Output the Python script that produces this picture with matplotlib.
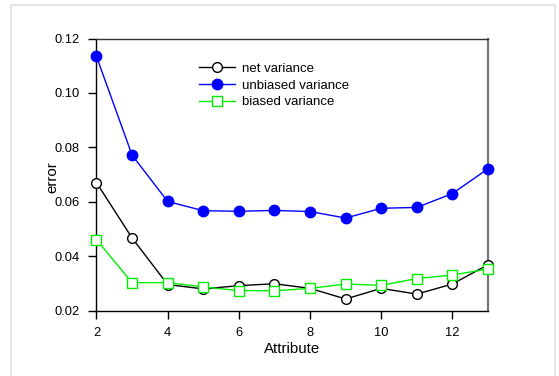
import matplotlib
matplotlib.use("Agg")
import matplotlib.pyplot as plt
from matplotlib.patches import Rectangle

plt.rcParams['font.family'] = ['Liberation Sans', 'DejaVu Sans']

attributes = [2, 3, 4, 5, 6, 7, 8, 9, 10, 11, 12, 13]
net_variance = [0.0671, 0.0468, 0.0297, 0.0281, 0.0293, 0.0300, 0.0283,
                0.0244, 0.0283, 0.0262, 0.0299, 0.0370]
unbiased_variance = [0.1134, 0.0772, 0.0602, 0.0568, 0.0566, 0.0569, 0.0565,
                     0.0541, 0.0577, 0.0580, 0.0631, 0.0722]
biased_variance = [0.0462, 0.0304, 0.0304, 0.0288, 0.0275, 0.0274, 0.0283,
                   0.0299, 0.0294, 0.0319, 0.0332, 0.0354]

x_ticks = [2, 4, 6, 8, 10, 12]
y_ticks = [0.02, 0.04, 0.06, 0.08, 0.10, 0.12]
y_tick_labels = ["0.02", "0.04", "0.06", "0.08", "0.10", "0.12"]

fig = plt.figure(figsize=(5.59, 3.76), dpi=100)
fig.patches.append(Rectangle((11 / 559, -0.05), 544 / 559, 1 - 5 / 376 + 0.05,
                             transform=fig.transFigure, fill=False,
                             edgecolor='#e4e4e4', lw=1.5, zorder=0))

ax = fig.add_axes([0.1726, 0.1729, 0.7004, 0.7247])

ax.plot(attributes, net_variance, color='black', lw=1.0, marker='o',
        markersize=7, markerfacecolor='white', markeredgecolor='black',
        markeredgewidth=1.0, label='net variance', zorder=3, clip_on=False)
ax.plot(attributes, unbiased_variance, color='#0000ff', lw=1.0, marker='o',
        markersize=7.5, markerfacecolor='#0000ff', markeredgecolor='#0000ff',
        label='unbiased variance', zorder=4, clip_on=False)
ax.plot(attributes, biased_variance, color='#00ee00', lw=1.0, marker='s',
        markersize=7.5, markerfacecolor='white', markeredgecolor='#00ee00',
        markeredgewidth=1.0, label='biased variance', zorder=5, clip_on=False)

ax.set_xlim(2, 13)
ax.set_ylim(0.02, 0.12)
ax.set_xticks(x_ticks)
ax.set_yticks(y_ticks)
ax.set_yticklabels(y_tick_labels)
ax.tick_params(direction='out', length=6, width=1.0, labelsize=9.3,
               colors='black', pad=5.5)
ax.tick_params(axis='y', pad=6)

for side in ('left', 'bottom'):
    ax.spines[side].set_color('black')
    ax.spines[side].set_linewidth(1.0)
ax.spines['top'].set_color('#333333')
ax.spines['top'].set_linewidth(1.0)
ax.spines['right'].set_color('#777777')
ax.spines['right'].set_linewidth(1.6)

ax.set_xlabel('Attribute', fontsize=10.8, labelpad=2)
ax.set_ylabel('error', fontsize=10.8)
ax.yaxis.set_label_coords(-0.096, 0.49)

ax.legend(loc='upper left', bbox_to_anchor=(0.262, 0.911), frameon=False,
          fontsize=9.5, handlelength=2.7, handletextpad=0.55, labelspacing=0.33,
          borderpad=0, borderaxespad=0)

fig.savefig('out.png', dpi=100)
